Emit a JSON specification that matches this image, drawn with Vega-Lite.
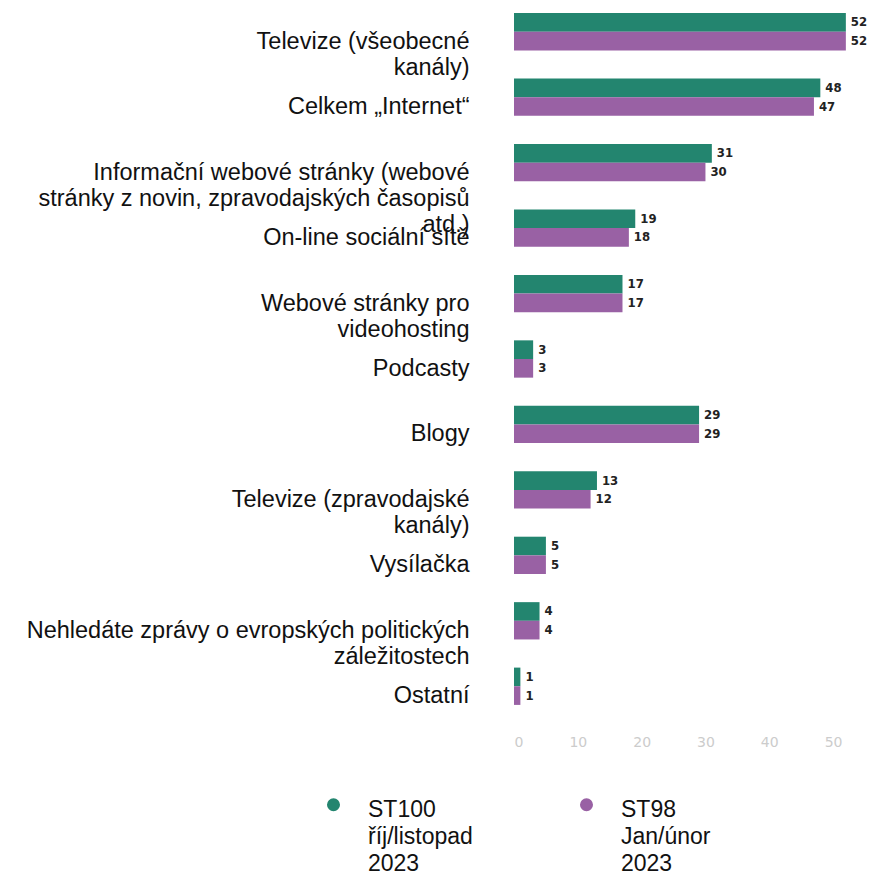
{
  "$schema": "https://vega.github.io/schema/vega-lite/v6.json",
  "autosize": "none",
  "width": 351,
  "height": 718,
  "padding": {"left": 514, "top": 0, "right": 5, "bottom": 157},
  "background": "white",
  "config": {"view": {"stroke": null}, "font": "Liberation Sans"},
  "data": {
    "values": [
      {"cat": "Televize (všeobecné|kanály)", "series": "ST100 říj/listopad 2023", "value": 52},
      {"cat": "Televize (všeobecné|kanály)", "series": "ST98 Jan/únor 2023", "value": 52},
      {"cat": "Celkem „Internet“", "series": "ST100 říj/listopad 2023", "value": 48},
      {"cat": "Celkem „Internet“", "series": "ST98 Jan/únor 2023", "value": 47},
      {"cat": "Informační webové stránky (webové|stránky z novin, zpravodajských časopisů|atd.)", "series": "ST100 říj/listopad 2023", "value": 31},
      {"cat": "Informační webové stránky (webové|stránky z novin, zpravodajských časopisů|atd.)", "series": "ST98 Jan/únor 2023", "value": 30},
      {"cat": "On-line sociální sítě", "series": "ST100 říj/listopad 2023", "value": 19},
      {"cat": "On-line sociální sítě", "series": "ST98 Jan/únor 2023", "value": 18},
      {"cat": "Webové stránky pro|videohosting", "series": "ST100 říj/listopad 2023", "value": 17},
      {"cat": "Webové stránky pro|videohosting", "series": "ST98 Jan/únor 2023", "value": 17},
      {"cat": "Podcasty", "series": "ST100 říj/listopad 2023", "value": 3},
      {"cat": "Podcasty", "series": "ST98 Jan/únor 2023", "value": 3},
      {"cat": "Blogy", "series": "ST100 říj/listopad 2023", "value": 29},
      {"cat": "Blogy", "series": "ST98 Jan/únor 2023", "value": 29},
      {"cat": "Televize (zpravodajské|kanály)", "series": "ST100 říj/listopad 2023", "value": 13},
      {"cat": "Televize (zpravodajské|kanály)", "series": "ST98 Jan/únor 2023", "value": 12},
      {"cat": "Vysílačka", "series": "ST100 říj/listopad 2023", "value": 5},
      {"cat": "Vysílačka", "series": "ST98 Jan/únor 2023", "value": 5},
      {"cat": "Nehledáte zprávy o evropských politických|záležitostech", "series": "ST100 říj/listopad 2023", "value": 4},
      {"cat": "Nehledáte zprávy o evropských politických|záležitostech", "series": "ST98 Jan/únor 2023", "value": 4},
      {"cat": "Ostatní", "series": "ST100 říj/listopad 2023", "value": 1},
      {"cat": "Ostatní", "series": "ST98 Jan/únor 2023", "value": 1}
    ]
  },
  "encoding": {
    "y": {
      "field": "cat",
      "type": "nominal",
      "sort": null,
      "title": null,
      "scale": {"paddingInner": 0.43, "paddingOuter": 0.2},
      "axis": {
        "labelExpr": "split(datum.label, '|')",
        "labelFont": "Liberation Sans",
        "labelFontSize": 23.5,
        "labelColor": "#111111",
        "labelLineHeight": 26,
        "labelPadding": 45,
        "labelOffset": 10,
        "labelLimit": 600,
        "ticks": false,
        "domain": false,
        "grid": false
      }
    },
    "yOffset": {"field": "series", "type": "nominal", "sort": null},
    "x": {
      "field": "value",
      "type": "quantitative",
      "title": null,
      "scale": {"domain": [0, 55], "nice": false},
      "axis": {
        "values": [0, 10, 20, 30, 40, 50],
        "labelFont": "DejaVu Sans",
        "labelFontSize": 14,
        "labelColor": "#cccccc",
        "labelPadding": 17,
        "ticks": false,
        "domain": false,
        "grid": false
      }
    }
  },
  "layer": [
    {
      "mark": {"type": "bar"},
      "encoding": {
        "color": {
          "field": "series",
          "type": "nominal",
          "sort": null,
          "scale": {"range": ["#23856f", "#9961a4"]},
          "legend": {
            "orient": "none",
            "legendX": -192,
            "legendY": 793,
            "direction": "horizontal",
            "title": null,
            "symbolType": "circle",
            "symbolSize": 170,
            "symbolStrokeWidth": 0,
            "labelExpr": "split(datum.label, ' ')",
            "labelFont": "Liberation Sans",
            "labelFontSize": 23,
            "labelColor": "#111111",
            "labelBaseline": "top",
            "labelOffset": 23,
            "columnPadding": 102,
            "labelLimit": 300,
            "encode": {
              "labels": {"update": {"lineHeight": {"value": 27}, "dy": {"value": -6}}}
            }
          }
        }
      }
    },
    {
      "mark": {"type": "text", "align": "left", "baseline": "middle", "dx": 5, "fontWeight": "bold", "fontSize": 13, "font": "DejaVu Sans Condensed", "color": "#222222"},
      "encoding": {"text": {"field": "value", "type": "quantitative"}}
    }
  ]
}
